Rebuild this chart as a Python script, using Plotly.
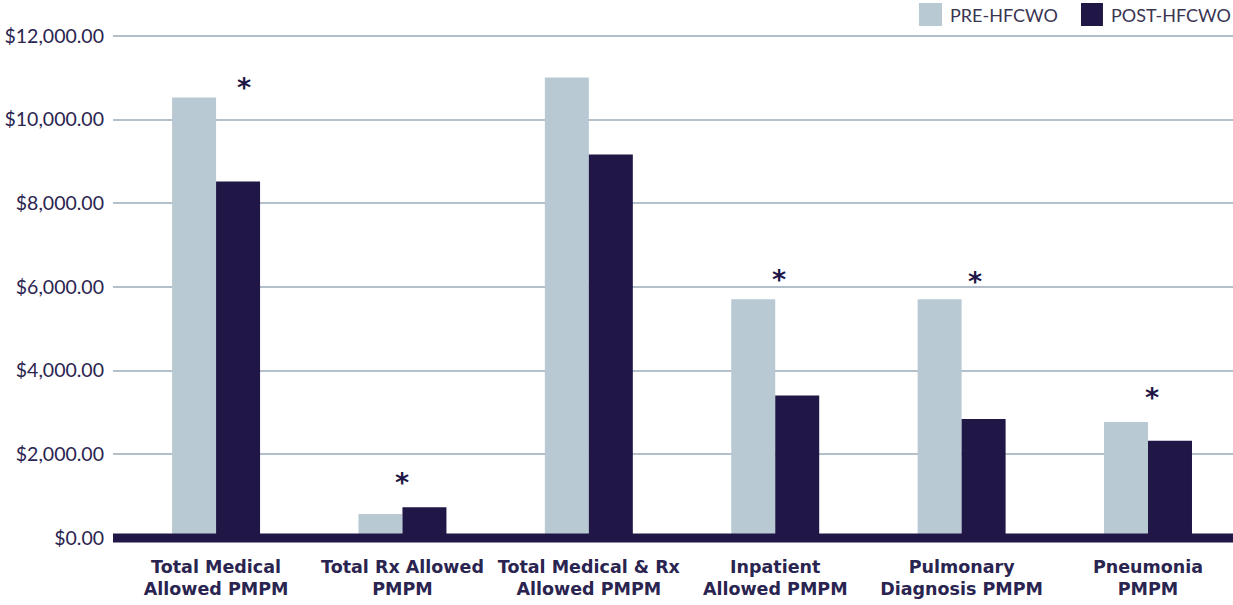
import plotly.graph_objects as go

categories = ["Total Medical<br>Allowed PMPM", "Total Rx Allowed<br>PMPM",
              "Total Medical & Rx<br>Allowed PMPM", "Inpatient<br>Allowed PMPM",
              "Pulmonary<br>Diagnosis PMPM", "Pneumonia<br>PMPM"]
pre_values = [10530, 573, 11006, 5710, 5710, 2771]
post_values = [8521, 733, 9166, 3409, 2843, 2324]
series_names = ["PRE-HFCWO", "POST-HFCWO"]
# significance markers: (category index offset, value height)
star_x = [0.15, 1.0, 3.02, 4.07, 5.02]
star_y = [10870, 1433, 6283, 6235, 3464]
tick_vals = [0, 2000, 4000, 6000, 8000, 10000, 12000]

PRE_COLOR = "#b8c9d3"
POST_COLOR = "#211747"
TEXT_COLOR = "#2a2450"
GRID_COLOR = "#b3bfc9"

x_idx = list(range(len(categories)))

fig = go.Figure()
fig.add_trace(go.Bar(x=x_idx, y=pre_values, name=series_names[0],
                     marker=dict(color=PRE_COLOR, line=dict(width=0)), showlegend=False))
fig.add_trace(go.Bar(x=x_idx, y=post_values, name=series_names[1],
                     marker=dict(color=POST_COLOR, line=dict(width=0)), showlegend=False))

annotations = []
for sx, sy in zip(star_x, star_y):
    annotations.append(dict(x=sx, y=sy, xref="x", yref="y", text="<b>*</b>",
                            showarrow=False, font=dict(size=27, color=POST_COLOR,
                                                       family="DejaVu Sans"),
                            yanchor="middle", xanchor="center", yshift=-4))

# legend built from shapes/annotations
annotations.append(dict(x=0.7455, y=1.029, xref="paper", yref="paper", text=series_names[0],
                        showarrow=False, xanchor="left", yanchor="middle",
                        font=dict(size=18, color="#3a3552", family="Lato")))
annotations.append(dict(x=0.8893, y=1.029, xref="paper", yref="paper", text=series_names[1],
                        showarrow=False, xanchor="left", yanchor="middle",
                        font=dict(size=18, color="#3a3552", family="Lato")))

shapes = [
    dict(type="rect", xref="paper", yref="paper", x0=0.7196, x1=0.7402, y0=1.0078, y1=1.0524,
         fillcolor=PRE_COLOR, line=dict(width=0)),
    dict(type="rect", xref="paper", yref="paper", x0=0.8643, x1=0.8839, y0=1.0078, y1=1.0524,
         fillcolor=POST_COLOR, line=dict(width=0)),
    dict(type="line", xref="paper", yref="y", x0=0, x1=1, y0=0, y1=0,
         line=dict(color=POST_COLOR, width=9), layer="above"),
]

fig.update_layout(
    width=1233, height=605,
    margin=dict(l=113, r=0, t=30, b=60),
    plot_bgcolor="white", paper_bgcolor="white",
    barmode="group", bargap=0.528, bargroupgap=0,
    font=dict(family="Lato", color=TEXT_COLOR),
    annotations=annotations, shapes=shapes,
    xaxis=dict(range=[-0.553, 5.456], tickvals=x_idx, ticktext=categories,
               showgrid=False, zeroline=False, showline=False, ticks="",
               ticklabelstandoff=9,
               tickfont=dict(size=17.5, color=TEXT_COLOR, family="DejaVu Sans",
                             weight="bold")),
    yaxis=dict(range=[-167, 12143], tickvals=tick_vals,
               ticktext=["${:,.2f}".format(v) for v in tick_vals],
               showgrid=True, gridcolor=GRID_COLOR, gridwidth=1.5,
               zeroline=False, showline=False, ticks="", ticklabelstandoff=8,
               tickfont=dict(size=19.5, color=TEXT_COLOR, family="Lato")),
)

fig.write_html("out.html")
